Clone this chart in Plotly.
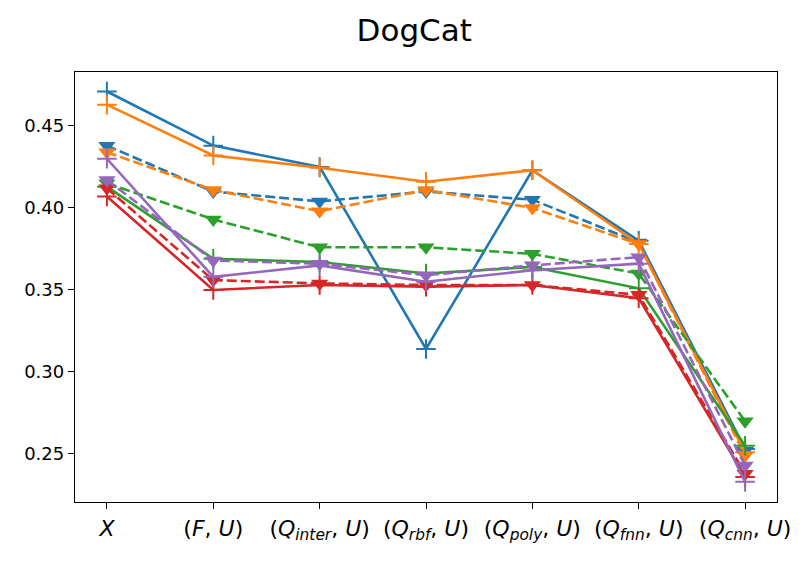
import plotly.graph_objects as go

categories = ["<i>X</i>", "(<i>F</i>, <i>U</i>)", "(<i>Q</i><sub><i>inter</i></sub>, <i>U</i>)",
              "(<i>Q</i><sub><i>rbf</i></sub>, <i>U</i>)", "(<i>Q</i><sub><i>poly</i></sub>, <i>U</i>)",
              "(<i>Q</i><sub><i>fnn</i></sub>, <i>U</i>)", "(<i>Q</i><sub><i>cnn</i></sub>, <i>U</i>)"]

blue_solid = [0.471, 0.438, 0.425, 0.314, 0.423, 0.380, 0.253]
blue_dashed = [0.438, 0.410, 0.404, 0.410, 0.405, 0.379, 0.252]
orange_solid = [0.463, 0.432, 0.4245, 0.416, 0.423, 0.378, 0.251]
orange_dashed = [0.434, 0.411, 0.398, 0.411, 0.400, 0.378, 0.249]
green_solid = [0.413, 0.369, 0.367, 0.360, 0.364, 0.351, 0.255]
green_dashed = [0.415, 0.393, 0.376, 0.376, 0.372, 0.360, 0.270]
red_solid = [0.407, 0.350, 0.353, 0.352, 0.353, 0.345, 0.236]
red_dashed = [0.412, 0.356, 0.354, 0.353, 0.353, 0.347, 0.238]
purple_solid = [0.430, 0.358, 0.365, 0.355, 0.362, 0.366, 0.233]
purple_dashed = [0.417, 0.368, 0.366, 0.359, 0.365, 0.370, 0.243]

series = [
    (blue_solid, "#1f77b4", "solid"), (blue_dashed, "#1f77b4", "dashed"),
    (orange_solid, "#ff7f0e", "solid"), (orange_dashed, "#ff7f0e", "dashed"),
    (green_solid, "#2ca02c", "solid"), (green_dashed, "#2ca02c", "dashed"),
    (red_solid, "#d62728", "solid"), (red_dashed, "#d62728", "dashed"),
    (purple_solid, "#9467bd", "solid"), (purple_dashed, "#9467bd", "dashed"),
]

fig = go.Figure()
for vals, color, style in series:
    if style == "solid":
        marker = dict(symbol="cross-thin-open", size=14, color=color, line=dict(color=color, width=2))
        line = dict(color=color, width=2.6)
    else:
        marker = dict(symbol="triangle-down", size=15, color=color, line=dict(width=0))
        line = dict(color=color, width=2.6, dash="10px,4px")
    fig.add_trace(go.Scatter(x=categories, y=vals, mode="lines+markers", line=line,
                             marker=marker, showlegend=False))

fig.update_layout(
    width=809, height=562,
    margin=dict(l=75, r=32, t=72, b=60),
    paper_bgcolor="white", plot_bgcolor="white",
    font=dict(family="DejaVu Sans", size=18, color="black"),
    title=dict(text="DogCat", x=0.512, xanchor="center", y=0.947, yanchor="middle",
               font=dict(size=31, family="DejaVu Sans", color="black")),
)
fig.update_xaxes(type="category", categoryorder="array", categoryarray=categories,
                 range=[-0.3, 6.3], showgrid=False, zeroline=False,
                 showline=True, mirror=True, linecolor="black", linewidth=1.3,
                 ticks="outside", ticklen=6, tickwidth=1.3, tickcolor="black",
                 tickangle=0, automargin=False,
                 tickfont=dict(size=22, family="DejaVu Sans"))
fig.update_yaxes(range=[0.2207, 0.4829], showgrid=False, zeroline=False,
                 showline=True, mirror=True, linecolor="black", linewidth=1.3,
                 ticks="outside", ticklen=6, tickwidth=1.3, tickcolor="black",
                 automargin=False,
                 tickvals=[0.25, 0.30, 0.35, 0.40, 0.45],
                 ticktext=["0.25", "0.30", "0.35", "0.40", "0.45"],
                 tickfont=dict(size=18, family="DejaVu Sans"))

fig.write_html("out.html")
